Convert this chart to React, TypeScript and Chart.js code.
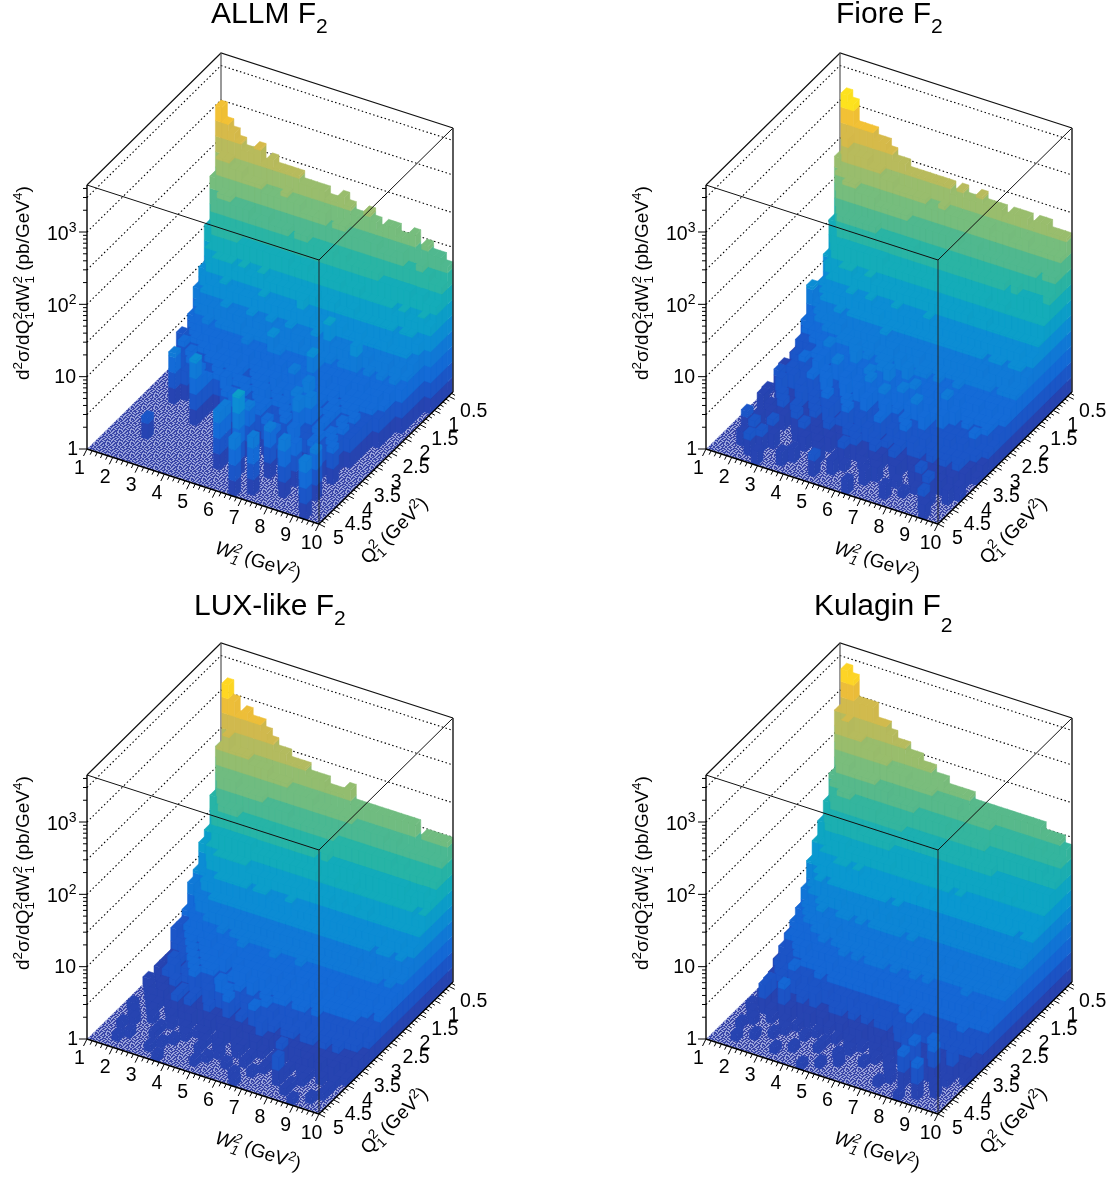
import React, { useEffect, useRef } from "react";
import { Chart, registerables } from "chart.js";
Chart.register(...registerables);

// Axis ranges and tick labels
const wRange = [1, 10];
const qRange = [0.35, 5];
const zRange = [1, 4467];
const wBins = 36;
const qBins = 24;
const wTicks = [1, 2, 3, 4, 5, 6, 7, 8, 9, 10];
const qTicks = [0.5, 1, 1.5, 2, 2.5, 3, 3.5, 4, 4.5, 5];
const qTickLabels = ["0.5", "1", "1.5", "2", "2.5", "3", "3.5", "4", "4.5", "5"];
const zMajorTicks = [1, 10, 100, 1000];
const zGridValues = [3, 10, 30, 100, 300, 1000, 3000];
const zMinorTicks = [2,3,4,5,6,7,8,9,20,30,40,50,60,70,80,90,200,300,400,500,600,700,800,900,2000,3000,4000];

// Cell heights as 10*log10(d2sigma/dQ2dW2), rows run from low Q2 to high Q2, columns from W2=1 to W2=10. 0 = empty bin.
const allmHeights = [
[30,28,27,26,25,25,26,24,25,24,24,24,24,23,23,23,23,22,22,23,22,21,21,22,21,20,21,21,20,20,21,19,20,19,19,18],
[21,24,24,23,23,22,22,22,21,21,21,22,21,21,20,20,20,21,19,20,20,19,19,19,19,19,18,18,18,19,17,17,18,17,16,16],
[15,19,20,20,19,19,19,18,18,19,18,18,18,17,18,18,17,17,17,17,16,17,16,16,16,16,16,15,15,15,15,15,14,15,14,14],
[10,13,16,16,16,16,15,15,15,15,15,15,15,15,14,14,15,14,14,14,14,14,13,14,14,13,13,13,13,13,12,13,12,12,13,12],
[8,10,12,13,13,13,12,13,12,12,13,12,12,12,12,12,12,12,12,11,12,12,11,11,12,11,11,11,11,11,11,10,11,11,10],
[5,7,9,10,10,11,10,10,10,10,10,11,10,10,10,10,10,12,10,9,10,10,9,10,9,9,10,9,9,9,10,9,9,9,8],
[0,5,7,8,8,8,9,8,8,8,9,8,8,9,8,8,9,8,8,8,9,8,11,8,8,8,8,8,8,7,8,8,7,8,7],
[4,0,5,6,7,6,7,7,7,8,7,7,7,7,7,7,7,7,8,7,7,7,7,7,6,7,7,10,6,7,6,7,6,7,6],
[0,4,0,5,5,6,6,6,6,6,6,7,6,6,6,9,7,6,6,6,6,6,7,6,6,6,6,6,6,6,5,6,6,6],
[0,0,5,4,0,5,5,6,5,5,6,5,6,5,5,6,5,6,5,6,5,6,9,5,6,5,5,6,5,5,5,5,6,5],
[0,0,0,4,5,0,4,5,5,5,5,6,5,0,5,5,5,5,5,5,7,5,5,5,5,5,5,4,5,5,5,5,5,4],
[0,0,0,0,0,5,4,0,4,5,4,5,5,4,4,5,5,0,6,5,5,4,5,7,5,5,4,5,4,5,5,4,4],
[0,0,0,0,0,4,0,5,4,0,5,4,0,5,5,4,5,5,4,5,0,6,5,4,8,5,4,5,5,4,4,5,4],
[0,0,0,0,7,0,0,0,4,5,0,0,6,0,4,5,0,5,6,4,5,5,0,7,5,4,5,0,5,4,5,0,4],
[0,0,0,0,0,0,0,0,0,6,0,0,0,5,0,0,4,0,5,5,0,4,5,0,4,5,8,4,5,0,4,5,4],
[0,0,0,0,0,0,0,0,0,9,0,0,0,0,0,6,0,0,0,5,0,0,4,5,0,8,4,0,5,4,5,4],
[0,0,0,0,0,0,0,0,0,0,0,0,0,0,0,0,0,6,0,0,0,5,0,0,0,5,0,4,0,5,4,5],
[0,0,0,0,0,0,0,0,0,0,0,0,0,0,0,0,0,0,0,7,0,0,0,5,0,0,6,0,0,5,4,0,5],
[],
[0,0,0,0,0,3,0,0,0,0,0,0,0,0,0,0,0,8,0,0,0,0,0,0,7,0,0,0,6,0,0,5],
[0,0,0,0,0,0,0,0,0,0,0,0,0,0,0,0,0,8,0,0,11,0,0,0,0,0,0,6,0,0,0,0,7],
[0,0,0,0,0,0,0,0,0,0,0,0,0,0,0,0,0,0,0,0,0,0,0,0,0,0,0,0,8],
[0,0,0,0,0,0,0,0,0,0,0,0,0,0,0,0,0,0,0,0,0,0,0,0,8,0,0,0,0,0,0,0,7],
[0,0,0,0,0,0,0,0,0,0,0,0,0,0,0,0,0,0,0,0,0,0,8,0,0,0,0,0,0,0,0,0,0,8],
];
const fioreHeights = [
[23,32,31,28,28,28,27,27,26,25,25,24,24,24,24,24,24,24,23,24,23,23,24,23,23,23,22,23,23,23,22,23,23,22,22,22],
[15,22,27,25,25,25,24,24,23,23,22,22,22,22,22,21,21,22,21,21,21,21,21,21,21,20,21,21,20,20,21,20,20,20,20,20],
[11,15,21,22,22,21,21,21,20,20,20,20,20,19,19,19,19,19,19,19,19,18,18,19,18,18,18,18,18,18,18,18,18,17,18,18],
[8,11,15,18,18,18,18,18,18,17,17,17,17,17,17,16,16,17,16,16,16,16,16,16,16,16,16,16,16,15,16,15,15,15,15,16],
[7,9,12,14,15,15,15,15,15,15,15,14,14,14,14,14,14,14,14,14,14,14,14,14,14,14,14,13,13,14,13,13,13,13,13,13],
[9,7,9,11,12,13,13,12,12,13,12,12,12,12,12,12,12,12,12,12,12,12,12,12,12,11,12,12,11,11,11,11,11,11,11,11],
[5,6,7,9,10,10,10,11,10,10,11,10,10,10,11,10,10,10,10,11,10,10,10,10,10,10,10,10,10,10,10,10,10,10,9,10],
[3,5,5,7,7,8,9,8,9,9,9,9,10,9,9,9,9,9,9,9,9,9,9,9,9,9,9,9,9,8,9,9,8,9,9,8],
[2,4,4,5,6,7,7,8,7,7,8,8,8,8,9,8,8,8,8,8,8,8,8,8,8,8,8,8,8,8,7,8,8,8,7,7],
[1,3,3,4,4,6,5,6,7,7,7,7,7,8,7,7,8,7,7,7,8,7,7,7,7,7,7,7,7,7,7,7,6,7,7,7],
[2,2,3,4,3,5,5,7,5,6,6,8,6,7,6,7,7,6,8,7,6,7,7,6,7,6,6,7,6,6,6,6,6,6,6,6],
[0,2,3,2,5,3,4,6,4,6,5,5,8,6,6,5,7,6,6,6,8,6,6,6,6,6,6,6,6,5,6,6,5,6,5,5],
[0,3,1,4,2,4,3,6,4,4,7,4,6,5,4,7,5,5,8,5,6,5,7,5,6,5,5,7,5,5,5,5,5,5,5,4],
[1,0,2,1,4,2,2,5,3,6,3,4,6,3,6,4,7,4,5,5,6,7,5,6,5,6,5,5,5,6,4,5,4,4,5,3],
[0,0,0,4,1,2,4,2,3,2,6,3,3,6,3,6,3,6,4,7,4,5,4,6,7,4,5,4,6,4,4,4,4,5,3,3],
[0,2,0,1,3,1,2,4,1,3,2,5,4,2,5,3,4,6,3,4,6,3,4,5,4,4,6,3,4,4,4,3,4,3,3,2],
[0,0,0,2,0,3,1,3,2,1,3,1,4,2,3,5,2,4,3,3,5,2,4,3,5,3,3,4,3,3,3,3,3,3,2,1],
[0,0,1,0,2,0,2,0,3,2,0,2,1,3,1,2,3,3,2,4,3,2,3,2,3,2,4,3,2,3,2,3,2,3,2,0],
[0,0,0,2,0,2,0,0,0,1,3,0,2,0,2,0,2,0,3,1,0,3,2,0,3,2,0,2,2,0,2,2,0,2,1,0],
[0,0,3,0,0,1,3,0,0,0,0,2,0,2,0,0,1,3,0,0,1,0,2,0,0,2,0,0,2,3,0,1,2,0,0,1],
[0,0,0,0,3,0,0,2,0,0,0,0,0,0,2,0,0,0,1,0,0,0,0,2,0,0,1,0,0,1,0,3,0,0,2,0],
[0,0,0,2,0,0,3,0,0,0,0,2,0,0,0,0,0,2,0,0,0,0,2,0,0,0,0,0,1,0,0,0,1,0,0,0],
[0,0,0,0,0,3,0,0,0,0,2,0,0,0,0,3,0,0,0,0,0,0,0,0,0,0,2,0,0,0,0,0,3,0,0,0],
[0,0,0,0,0,0,0,2,0,0,0,0,0,0,0,0,0,0,0,0,0,2,0,0,0,0,0,0,0,0,0,0,0,2,0,0],
];
const luxHeights = [
[23,32,30,28,29,28,28,27,26,25,25,24,24,24,23,23,23,22,22,22,23,21,21,21,21,21,21,21,21,21,21,19,20,20,20,20],
[17,24,26,24,24,24,23,23,23,22,22,22,21,21,21,21,20,20,20,20,20,20,19,19,19,19,19,18,19,18,18,18,18,18,18,18],
[13,16,21,21,21,20,20,20,20,19,19,19,19,18,18,18,18,18,18,18,17,17,17,17,17,17,17,17,17,16,17,16,16,16,16,16],
[12,11,16,18,18,18,17,17,17,17,17,16,16,16,16,16,16,16,15,16,15,15,15,15,15,15,15,15,15,15,15,15,14,14,15,14],
[9,9,13,15,15,15,15,15,15,14,14,14,14,14,14,14,14,14,14,13,13,14,13,13,14,13,13,13,13,13,13,13,13,13,12,13],
[8,7,9,12,13,13,13,13,13,12,12,12,12,12,12,12,12,12,12,12,12,12,11,12,11,12,11,12,11,11,11,11,11,11,11,11],
[5,5,8,10,10,11,11,11,11,11,10,11,11,10,10,10,11,10,10,10,10,10,10,10,10,10,10,10,10,10,10,9,10,10,9,10],
[4,4,6,8,8,9,9,9,9,9,9,9,9,9,9,9,9,9,9,9,9,9,9,9,9,9,9,9,9,9,8,9,9,8,9,8],
[4,3,5,6,6,7,8,8,8,8,8,8,8,8,8,8,8,8,8,8,8,8,8,8,8,8,8,8,8,7,8,7,8,8,7,7],
[1,3,3,5,5,5,6,6,7,6,7,7,7,7,7,7,7,7,7,7,7,7,7,7,7,7,7,7,7,7,7,7,7,6,7,6],
[1,2,2,3,5,4,5,6,5,6,6,6,7,6,6,6,6,7,6,6,6,7,6,6,6,6,6,6,6,6,6,6,6,6,6,6],
[1,1,2,3,2,5,3,5,5,6,5,6,5,6,6,6,6,6,6,6,6,5,6,6,6,6,5,6,5,6,5,5,5,6,5,5],
[0,1,2,4,2,3,5,4,5,5,5,6,4,6,5,6,6,6,5,6,5,6,5,6,5,5,6,5,5,5,5,5,5,5,4,5],
[1,0,1,3,4,2,3,5,3,5,5,4,3,5,6,6,5,5,6,5,5,6,5,5,5,6,5,5,5,5,5,5,5,4,4,4],
[0,1,0,2,1,3,2,2,5,2,4,2,5,4,2,5,4,6,4,5,4,5,5,4,5,5,4,5,4,4,4,4,4,4,4,3],
[0,0,1,1,2,1,1,3,2,3,2,4,2,6,5,3,2,4,3,3,5,4,3,3,4,3,4,3,3,3,3,3,3,3,3,2],
[0,0,0,1,1,0,1,3,1,3,1,2,3,2,2,5,2,3,2,5,3,2,3,2,3,3,2,3,3,2,3,2,3,2,2,2],
[0,1,0,0,1,0,0,1,0,1,2,0,1,2,0,2,2,2,1,2,2,4,2,0,2,2,2,2,2,2,1,2,2,2,2,1],
[0,0,1,0,0,1,0,0,1,0,1,0,1,1,0,1,2,0,1,1,0,2,1,0,1,3,0,1,1,2,0,2,1,2,1,1],
[0,0,0,1,0,0,0,1,0,0,0,1,0,0,1,0,1,0,0,1,0,1,0,0,1,1,0,1,0,1,1,0,1,0,1,0],
[0,0,1,0,0,0,0,1,0,0,1,0,0,0,1,0,0,1,0,0,0,1,0,0,1,0,0,1,0,0,1,0,0,0,1,0],
[0,0,0,0,1,0,0,0,0,1,0,0,0,0,0,0,1,0,0,1,0,0,0,1,0,0,0,4,0,1,0,0,0,0,1,0],
[0,0,0,1,0,0,0,0,1,0,0,0,0,0,0,1,0,0,0,0,0,1,0,0,0,0,0,0,0,1,0,0,0,1,0,0],
[0,0,0,0,0,0,0,0,0,0,1,0,0,0,0,0,0,0,0,0,0,0,1,0,0,0,0,0,0,0,0,1,0,0,0,0],
];
const kulaginHeights = [
[28,34,33,30,30,30,28,28,27,26,26,25,25,24,24,23,23,22,22,22,22,21,21,21,21,21,21,21,21,21,21,21,20,20,20,19],
[20,27,28,26,26,25,25,24,24,23,23,23,22,22,22,22,21,21,21,21,20,20,20,20,20,19,19,19,19,19,19,18,19,18,18,18],
[17,20,23,23,22,22,22,22,21,21,20,20,20,20,19,19,19,19,19,18,18,18,18,18,18,17,17,17,17,17,17,17,17,17,16,16],
[15,16,19,20,20,19,19,19,19,18,18,18,18,17,17,17,17,17,16,16,16,16,16,16,16,16,16,15,15,15,15,15,15,15,15,15],
[13,13,16,17,17,17,17,16,16,16,16,16,15,15,15,15,15,15,15,14,14,14,14,14,14,14,14,14,14,13,14,13,13,13,13,13],
[11,11,13,14,15,15,14,14,14,14,14,14,14,13,13,13,13,13,13,13,13,13,12,13,12,12,12,12,12,12,12,12,12,12,12,12],
[8,9,11,12,12,13,13,12,13,12,12,12,12,12,12,12,12,12,11,12,11,11,11,11,11,11,11,11,11,11,11,11,11,10,11,11],
[6,7,9,11,10,11,11,11,11,11,11,11,11,11,10,11,10,10,10,10,10,10,10,10,10,10,10,10,10,10,10,10,10,10,10,10],
[5,6,7,8,9,9,10,10,9,10,10,10,10,9,10,9,10,9,9,9,9,9,9,9,9,9,9,9,9,9,9,9,9,9,9,9],
[4,5,6,7,7,9,8,8,9,9,8,9,8,9,9,9,9,9,8,9,8,8,8,8,8,8,8,8,8,8,8,8,8,8,8,8],
[3,5,5,5,6,7,8,7,8,7,8,8,8,8,8,8,8,8,8,8,8,8,8,7,8,7,8,7,7,7,7,7,7,8,7,7],
[2,3,4,5,5,5,6,7,6,7,7,7,7,7,7,7,8,7,7,7,7,7,7,7,7,7,7,7,7,7,7,7,7,7,7,7],
[0,3,4,4,5,6,5,6,6,6,6,7,6,7,6,7,7,7,6,7,6,6,7,6,7,6,6,6,6,6,7,6,6,6,6,6],
[0,2,3,3,4,3,5,5,5,5,6,5,6,6,6,6,6,6,6,6,6,6,6,6,6,6,6,6,6,6,6,6,5,6,5,6],
[0,1,2,3,2,5,3,4,3,5,4,5,5,5,5,5,5,6,5,5,5,6,5,5,5,5,5,5,5,5,5,5,5,5,5,5],
[0,1,3,1,2,3,4,3,3,4,2,4,3,4,4,4,3,4,4,3,4,4,3,5,4,5,4,4,4,4,4,4,5,4,4,4],
[0,0,1,4,1,2,1,2,3,2,4,2,2,3,3,2,3,2,3,2,3,3,2,4,3,5,3,3,3,3,3,3,3,3,3,2],
[0,1,0,4,1,0,5,2,0,1,2,0,2,1,0,2,1,2,2,0,1,2,1,2,4,2,2,2,2,2,2,2,2,2,2,1],
[0,0,1,0,0,1,0,1,0,1,0,0,1,0,0,1,0,1,0,1,0,1,0,1,0,1,4,1,0,2,5,0,1,4,0,1],
[0,0,0,1,0,0,0,0,1,0,0,1,0,0,1,0,0,0,1,0,0,0,1,0,1,0,0,1,5,0,1,5,0,1,0,0],
[0,0,1,0,0,0,0,1,0,0,0,0,0,0,1,0,0,1,0,0,0,1,0,0,0,1,0,0,0,1,0,0,1,0,0,0],
[0,0,0,0,0,1,0,0,0,0,0,1,0,0,0,0,0,0,1,0,0,0,0,0,0,0,1,0,5,0,0,0,0,1,0,0],
[0,0,0,1,0,0,0,0,0,1,0,0,0,0,0,0,1,0,0,0,0,0,0,0,0,1,0,0,0,0,0,5,0,0,0,0],
[0,0,0,0,0,0,0,0,0,0,0,0,0,0,1,0,0,0,0,0,0,0,0,0,0,0,0,0,0,1,0,0,0,0,0,0],
];

const panels = [
  { name: "ALLM F", heights: allmHeights, left: 0, top: 0, colorRange: 32, titleX: 211, titleY: 23, subDy: 10, subGap: 0 },
  { name: "Fiore F", heights: fioreHeights, left: 619, top: 0, colorRange: 32, titleX: 217, titleY: 23, subDy: 10, subGap: 0 },
  { name: "LUX-like F", heights: luxHeights, left: 0, top: 590, colorRange: 32.5, titleX: 194, titleY: 25, subDy: 10, subGap: 0 },
  { name: "Kulagin F", heights: kulaginHeights, left: 619, top: 590, colorRange: 35, titleX: 195, titleY: 25, subDy: 17, subGap: 0 },
];

const palette: [number, number, number, number][] = [
  [0, 45, 60, 165], [0.08, 30, 80, 195], [0.16, 20, 105, 215], [0.25, 15, 125, 215], [0.33, 10, 150, 210],
  [0.42, 15, 170, 190], [0.5, 40, 180, 165], [0.58, 85, 185, 140], [0.66, 130, 190, 120], [0.74, 170, 188, 100],
  [0.82, 205, 185, 80], [0.9, 240, 190, 55], [0.96, 255, 215, 35], [1, 250, 245, 20],
];
const bandWidth = 2.15;
const floorMask = ["100110010110", "001100110011", "110011000100", "100001101100", "011011000011", "001100011001", "110001100110", "011011001100", "000110110001", "110100011011", "011001100010", "001011000110"];

function paletteAt(t: number) {
  const v = Math.max(0, Math.min(1, t));
  for (let i = 1; i < palette.length; i++) {
    if (v <= palette[i][0]) {
      const a = palette[i - 1], b = palette[i], f = (v - a[0]) / (b[0] - a[0]);
      return [a[1] + (b[1] - a[1]) * f, a[2] + (b[2] - a[2]) * f, a[3] + (b[3] - a[3]) * f];
    }
  }
  return palette[palette.length - 1].slice(1);
}
const rgb = (c: number[], k = 1) => `rgb(${c.map((x) => Math.round(Math.min(255, x * k))).join(",")})`;

type Seg = { t: string; size?: number; dy?: number; italic?: boolean; noAdvance?: boolean };
function rich(ctx: CanvasRenderingContext2D, segs: Seg[], x: number, y: number, rot: number, base: number) {
  ctx.save();
  ctx.translate(x, y);
  ctx.rotate(rot);
  ctx.textAlign = "left";
  ctx.textBaseline = "alphabetic";
  ctx.fillStyle = "#000";
  let px = 0;
  for (const s of segs) {
    ctx.font = `${s.italic ? "italic " : ""}${s.size ?? base}px "Liberation Sans"`;
    ctx.fillText(s.t, px, s.dy ?? 0);
    if (!s.noAdvance) px += ctx.measureText(s.t).width;
  }
  ctx.restore();
}

function legoPlugin(panel: any) {
  return {
    id: "lego3d",
    afterDraw(chart: any) {
      const ctx: CanvasRenderingContext2D = chart.ctx;
      const { x: sw, q: sq, y: sz } = chart.scales;
      const Ox = 87, Oy = 449;
      const P = (w: number, q: number, z: number) => {
        const fw = (sw.getPixelForValue(w) - sw.left) / sw.width;
        const fq = 1 - (sq.getPixelForValue(q) - sq.left) / sq.width;
        const fz = (sz.bottom - sz.getPixelForValue(z)) / (sz.bottom - sz.top);
        return [Ox + fw * 232 + fq * 134, Oy + fw * 75 - fq * 132 - fz * 264];
      };
      const line = (pts: number[][], color = "#000", width = 1, dash: number[] = []) => {
        ctx.save();
        ctx.strokeStyle = color;
        ctx.lineWidth = width;
        ctx.setLineDash(dash);
        ctx.beginPath();
        pts.forEach((p, i) => (i ? ctx.lineTo(p[0], p[1]) : ctx.moveTo(p[0], p[1])));
        ctx.stroke();
        ctx.restore();
      };
      const poly = (pts: number[][], color: string) => {
        ctx.fillStyle = color;
        ctx.strokeStyle = color;
        ctx.lineWidth = 0.5;
        ctx.beginPath();
        pts.forEach((p, i) => (i ? ctx.lineTo(p[0], p[1]) : ctx.moveTo(p[0], p[1])));
        ctx.closePath();
        ctx.fill();
        ctx.stroke();
      };
      const [w0, w1] = wRange, [q0, q1] = qRange, [z0, z1] = zRange;

      // back walls: dotted grid
      for (const g of zGridValues) {
        line([P(w0, q1, g), P(w0, q0, g), P(w1, q0, g)], "#000", 1.1, [1.5, 2.5]);
      }
      // back box lines
      line([P(w0, q1, z1), P(w0, q0, z1), P(w1, q0, z1)], "#111", 1.2);
      line([P(w0, q0, z0), P(w0, q0, z1)], "#555", 1.2);

      // floor
      const tile = document.createElement("canvas");
      tile.width = tile.height = 12;
      const tc = tile.getContext("2d")!;
      floorMask.forEach((row, r) => row.split("").forEach((c, k) => {
        tc.fillStyle = c === "1" ? "#98a2da" : "#3a46a8";
        tc.fillRect(k, r, 1, 1);
      }));
      ctx.fillStyle = ctx.createPattern(tile, "repeat")!;
      ctx.beginPath();
      [P(w0, q1, z0), P(w1, q1, z0), P(w1, q0, z0), P(w0, q0, z0)].forEach((p, i) => (i ? ctx.lineTo(p[0], p[1]) : ctx.moveTo(p[0], p[1])));
      ctx.closePath();
      ctx.fill();

      // towers, back to front
      const dw = (w1 - w0) / wBins / 2, dq = (q1 - q0) / qBins / 2;
      const colors: number[][] = [];
      const bandColor = (k: number) => colors[k] ?? (colors[k] = paletteAt(((k + 0.5) * bandWidth) / panel.colorRange) as number[]);
      for (const d of chart.data.datasets[0].data) {
        const wl = d.x - dw, wh = d.x + dw, ql = d.q - dq, qh = d.q + dq;
        const top = d.v;
        let k = 0;
        for (; k * bandWidth < top; k++) {
          const zb = 10 ** ((k * bandWidth) / 10);
          const zt = 10 ** (Math.min((k + 1) * bandWidth, top) / 10);
          const c = bandColor(k);
          poly([P(wl, qh, zb), P(wh, qh, zb), P(wh, qh, zt), P(wl, qh, zt)], rgb(c));
          poly([P(wh, qh, zb), P(wh, ql, zb), P(wh, ql, zt), P(wh, qh, zt)], rgb(c, 0.99));
        }
        poly([P(wl, qh, d.y), P(wh, qh, d.y), P(wh, ql, d.y), P(wl, ql, d.y)], rgb(bandColor(k - 1)));
      }

      // front box lines
      line([P(w0, q1, z1), P(w1, q1, z1), P(w1, q0, z1)], "#111", 1);
      line([P(w1, q1, z0), P(w1, q1, z1)], "#222", 1);
      line([P(w1, q0, z0), P(w1, q0, z1)], "#333", 1.6);
      line([P(w0, q1, z0), P(w0, q1, z1)], "#000", 1.4);
      line([P(w0, q1, z0), P(w1, q1, z0)], "#000", 1.4);
      line([P(w1, q1, z0), P(w1, q0, z0)], "#000", 1.4);

      // z axis ticks and labels
      for (const t of zMajorTicks) {
        const p = P(w0, q1, t);
        line([p, [p[0] - 8, p[1]]], "#000", 1);
      }
      for (const t of zMinorTicks) {
        const p = P(w0, q1, t);
        line([p, [p[0] - 4, p[1]]], "#000", 1);
      }
      const labelFont = 19.5;
      ctx.fillStyle = "#000";
      ctx.textBaseline = "middle";
      ctx.font = `${labelFont}px "Liberation Sans"`;
      ctx.textAlign = "right";
      let p = P(w0, q1, 1);
      ctx.fillText("1", 78, p[1] + 1);
      p = P(w0, q1, 10);
      ctx.fillText("10", 76, p[1] + 1);
      rich(ctx, [{ t: "10" }, { t: "2", size: 14, dy: -8 }], 47, P(w0, q1, 100)[1] + 8, 0, labelFont);
      rich(ctx, [{ t: "10" }, { t: "3", size: 14, dy: -8 }], 47, P(w0, q1, 1000)[1] + 8, 0, labelFont);

      // W axis ticks
      for (let m = 0; m <= 45; m++) {
        const w = w0 + m * 0.2;
        const a = P(w, q1, z0), major = m % 5 === 0;
        line([a, [a[0] - (major ? 3.5 : 2), a[1] + (major ? 7 : 4)]], "#000", 1);
      }
      ctx.textAlign = "center";
      wTicks.forEach((t) => {
        const a = P(t, q1, z0);
        ctx.font = `${labelFont}px "Liberation Sans"`;
        ctx.fillStyle = "#000";
        ctx.textBaseline = "middle";
        ctx.fillText(String(t), a[0] - 7.5, a[1] + 20);
      });
      // Q axis ticks
      for (let m = 4; m <= 50; m++) {
        const q = m / 10;
        const a = P(w1, q, z0), major = m % 5 === 0;
        line([a, [a[0] + (major ? 6 : 3.5), a[1] + (major ? 3 : 2)]], "#000", 1);
      }
      qTicks.forEach((t, i) => {
        const a = P(w1, t, z0);
        const lab = qTickLabels[i];
        ctx.font = `${labelFont}px "Liberation Sans"`;
        ctx.fillStyle = "#000";
        ctx.textBaseline = "middle";
        ctx.fillText(lab, a[0] + (lab.length > 1 ? 25 : 19.5), a[1] + 15);
      });

      // axis titles
      const s = 13.5;
      rich(ctx, [
        { t: "d" }, { t: "2", size: s, dy: -7 }, { t: "σ/dQ" }, { t: "1", size: s, dy: 5, noAdvance: true }, { t: "2", size: s, dy: -7 },
        { t: "dW" }, { t: "1", size: s, dy: 5, noAdvance: true }, { t: "2", size: s, dy: -7 }, { t: " (pb/GeV" }, { t: "4", size: s, dy: -7 }, { t: ")" },
      ], 29, 380, -Math.PI / 2, 19);
      rich(ctx, [
        { t: "W", italic: true }, { t: "1", size: s, dy: 5, italic: true, noAdvance: true }, { t: "2", size: s, dy: -7, italic: true },
        { t: " (GeV" }, { t: "2", size: s, dy: -7 }, { t: ")" },
      ], 214, 553, Math.atan2(75, 232), 19);
      rich(ctx, [
        { t: "Q" }, { t: "1", size: s, dy: 5, noAdvance: true }, { t: "2", size: s, dy: -7 },
        { t: " (GeV" }, { t: "2", size: s, dy: -7 }, { t: ")" },
      ], 368, 565, -Math.atan2(132, 134), 19);

      // panel title
      ctx.font = '30px "Liberation Sans"';
      const tw = ctx.measureText(panel.name).width;
      rich(ctx, [{ t: panel.name }], panel.titleX, panel.titleY, 0, 30);
      rich(ctx, [{ t: "2" }], panel.titleX + tw + panel.subGap, panel.titleY + panel.subDy, 0, 21);
    },
  };
}

function Panel({ panel }: { panel: any }) {
  const ref = useRef<HTMLCanvasElement>(null);
  useEffect(() => {
    const points: any[] = [];
    const dw = (wRange[1] - wRange[0]) / wBins, dq = (qRange[1] - qRange[0]) / qBins;
    panel.heights.forEach((row: number[], j: number) =>
      row.forEach((v, i) => {
        if (v > 0) points.push({ x: wRange[0] + (i + 0.5) * dw, q: qRange[0] + (j + 0.5) * dq, y: 10 ** (v / 10), v });
      })
    );
    const chart = new Chart(ref.current!, {
      type: "scatter",
      data: { datasets: [{ data: points, pointRadius: 0, xAxisID: "x", yAxisID: "y" }] },
      options: {
        animation: false,
        responsive: false,
        devicePixelRatio: 1,
        layout: { padding: 0 },
        plugins: { legend: { display: false }, tooltip: { enabled: false } },
        scales: {
          x: { type: "linear", min: wRange[0], max: wRange[1], display: false },
          q: { type: "linear", axis: "x", min: qRange[0], max: qRange[1], display: false },
          y: { type: "logarithmic", min: zRange[0], max: zRange[1], display: false },
        },
      },
      plugins: [legoPlugin(panel)],
    } as any);
    return () => chart.destroy();
  }, [panel]);
  return (
    <canvas
      ref={ref}
      width={493}
      height={589}
      style={{ position: "absolute", left: panel.left, top: panel.top, display: "block", filter: "blur(0.4px)" }}
    />
  );
}

export default function App() {
  return (
    <div style={{ position: "absolute", left: 0, top: 0, width: 1112, height: 1179, background: "#fff", overflow: "hidden" }}>
      {panels.map((p) => (
        <Panel key={p.name} panel={p} />
      ))}
    </div>
  );
}
